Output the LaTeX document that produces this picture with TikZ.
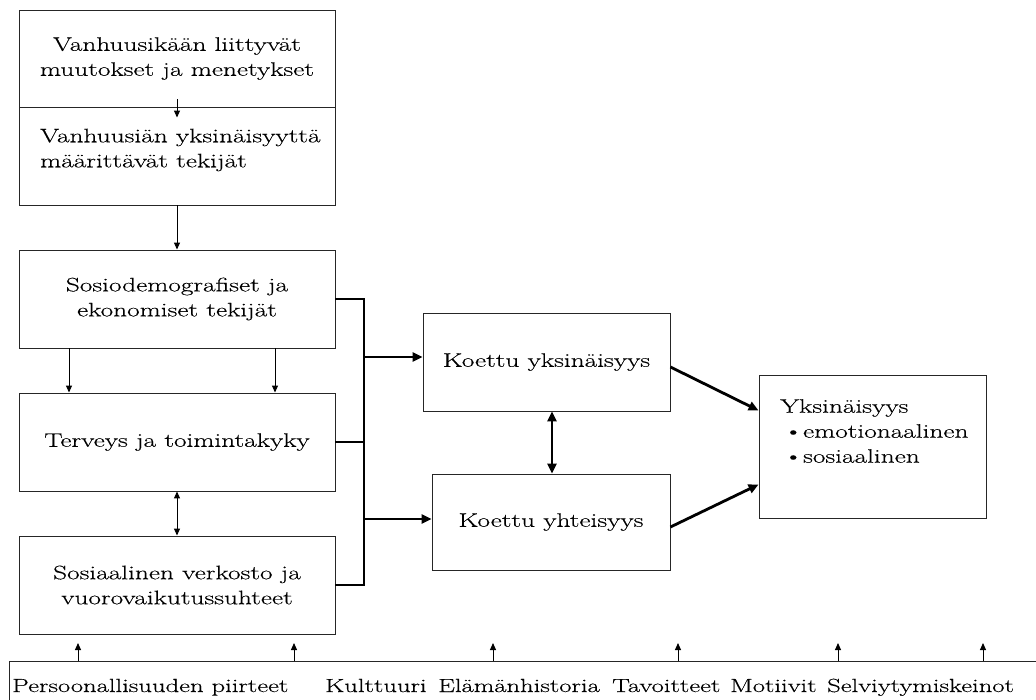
\documentclass[tikz,border=0pt]{standalone}
\usepackage{fontspec}
\setmainfont[FakeStretch=1.4,FakeBold=0.3]{Latin Modern Roman}
\usetikzlibrary{arrows.meta,calc}
\begin{document}
\begin{tikzpicture}[x=1pt,y=-1pt,
  box/.style={draw=black!85,line width=0.9pt,minimum width=316pt,minimum height=98pt,inner sep=0pt,align=center,font=\fontsize{19.5}{25}\selectfont},
  txt/.style={inner sep=0pt,align=left,font=\fontsize{19.5}{25}\selectfont},
  thin/.style={line width=1pt,-{Triangle[length=7pt,width=6pt]}},
  thinb/.style={line width=1pt,{Triangle[length=7pt,width=6pt]}-{Triangle[length=7pt,width=6pt]}},
  bus/.style={line width=2.8pt},
  busarr/.style={line width=2.8pt,-{Triangle[length=10pt,width=9pt]}},
  busb/.style={line width=2.8pt,{Triangle[length=10pt,width=9pt]}-{Triangle[length=10pt,width=9pt]}},
  word/.style={anchor=base west,inner sep=0pt,font=\fontsize{19}{25}\selectfont}]
\useasboundingbox (0,0) rectangle (1036,700);
% left column
\node[box,minimum height=97pt] (t1) at (177,58.5) {Vanhuusikään liittyvät\\muutokset ja menetykset};
\node[box,minimum height=98pt] (t2) at (177,156) {};
\node[txt,anchor=west] (t2txt) at (40,150) {Vanhuusiän yksinäisyyttä\\ määrittävät tekijät};
\node[box] (sosio) at (177,299) {Sosiodemografiset ja\\ekonomiset tekijät};
\node[box] (terv) at (177,442) {Terveys ja toimintakyky};
\node[box] (verk) at (177,585) {Sosiaalinen verkosto ja\\vuorovaikutussuhteet};
% middle
\node[box,minimum width=247pt] (ky) at (546.5,362) {Koettu yksinäisyys};
\node[box,minimum width=238pt,minimum height=96pt] (kh) at (551,522) {Koettu yhteisyys};
% right
\node[box,minimum width=227pt,minimum height=143pt] (yks) at (872.5,446.5) {};
\node[txt,anchor=north west] (ykstxt) at (780,399) {Yksinäisyys\\ \,\textbullet emotionaalinen\\ \,\textbullet sosiaalinen};
% bottom box
\node[draw=black!85,line width=0.9pt,minimum width=1041pt,minimum height=60pt,inner sep=0pt,anchor=north west] (bot) at (9,661) {};
\node[word] (w1) at (12,692) {Persoonallisuuden piirteet};
\node[word] (w2) at (325,692) {Kulttuuri};
\node[word] (w3) at (438,692) {Elämänhistoria};
\node[word] (w4) at (612,692) {Tavoitteet};
\node[word] (w5) at (730,692) {Motiivit};
\node[word] (w6) at (827,692) {Selviytymiskeinot};
% thin arrows
\draw[thin] ($(t1.south)+(0,-8)$) -- ($(t2.north)+(0,11)$);
\draw[thin] (t2.south) -- (sosio.north);
\draw[thin] ($(sosio.south)+(-108,0)$) -- ($(terv.north)+(-108,0)$);
\draw[thin] ($(sosio.south)+(98,0)$) -- ($(terv.north)+(98,0)$);
\draw[thinb] (terv.south) -- (verk.north);
\foreach \x [count=\i] in {78,294,493,678,838,983}{
  \coordinate (up\i) at (\x,643);
  \draw[thin] (bot.north -| up\i) -- (up\i);
}
% bus
\coordinate (busx) at (364,0);
\draw[bus,line join=miter] (sosio.east) -- (sosio.east -| busx) -- (verk.east -| busx) -- (verk.east);
\draw[bus] (terv.east) -- (terv.east -| busx);
\draw[busarr] ($(ky.west -| busx)+(0,-5)$) -- ($(ky.west)+(0,-5)$);
\draw[busarr] ($(kh.west -| busx)+(0,-3)$) -- ($(kh.west)+(0,-3)$);
\draw[busb] (ky.south -| 552,0) -- (kh.north -| 552,0);
\draw[busarr] ($(ky.east)+(0,5)$) -- ($(yks.west)+(0,-36)$);
\draw[busarr] ($(kh.east)+(0,5)$) -- ($(yks.west)+(0,38)$);
\end{tikzpicture}
\end{document}
